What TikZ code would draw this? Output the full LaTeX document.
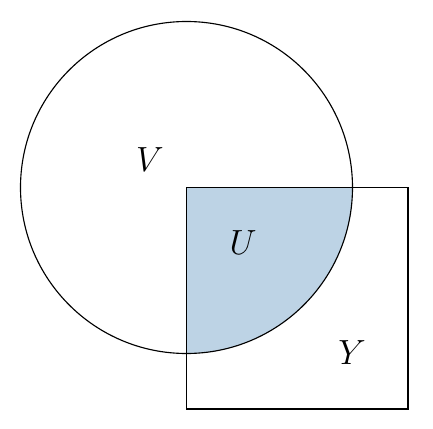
\documentclass[tikz,border=0pt]{standalone}
\usepackage{tikz}
\usetikzlibrary{positioning}
\definecolor{ufill}{RGB}{189,211,229}

\begin{document}
\begin{tikzpicture}[x=0.25cm,y=0.25cm,line width=0.8pt,font=\fontsize{26}{30}\selectfont]
 \useasboundingbox (0,0) rectangle (43.3,42.8);
 \coordinate (c) at (18.65,24.05);
 % shaded part: quarter of the disc inside the square
 \fill[ufill] (c) -- ++(16.6,0) arc[start angle=0,end angle=-90,radius=16.6] -- cycle;
 \draw (c) circle[radius=16.6];
 \draw (c) rectangle (40.8,1.9);
 \node (V) at (15.0,26.8) {$V$}; \node (U) at (24.3,18.5) {$U$}; \node (Y) at (35.2,7.5) {$Y$};
\end{tikzpicture}
\end{document}
